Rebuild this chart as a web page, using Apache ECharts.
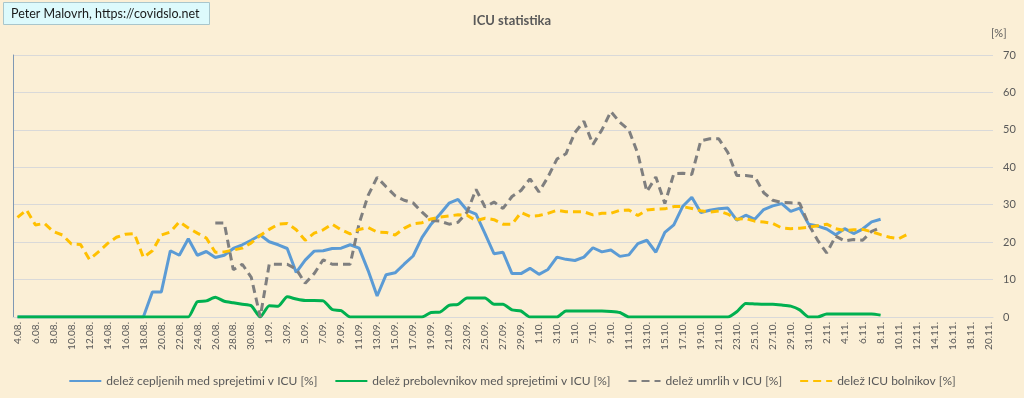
<!DOCTYPE html>
<html>
<head>
<meta charset="utf-8">
<title>ICU statistika</title>
<script src="https://cdn.jsdelivr.net/npm/echarts@6/dist/echarts.min.js"></script>
<style>
    html, body { margin: 0; padding: 0; background: #fbefd6; }
    #chart_icu { width: 1024px; height: 398px; }
</style>
</head>
<body>
<div id="chart_icu"></div>
<script>
// date labels 4.08. .. 20.11.
var months = [[8, 4, 31], [9, 1, 30], [10, 1, 31], [11, 1, 20]];
var dates = [];
months.forEach(function (m) {
    for (var d = m[1]; d <= m[2]; d++) {
        dates.push(d + '.' + (m[0] < 10 ? '0' + m[0] : m[0]) + '.');
    }
});

// delež cepljenih med sprejetimi v ICU [%]
var cepljeni = [
    0, 0, 0, 0, 0, 0, 0, 0, 0, 0, 0, 0, 0, 0, 0, 6.7, 6.7, 17.7, 16.5, 20.9,
    16.5, 17.5, 15.9, 16.5, 18.3, 19.3, 20.5, 21.9, 20.1, 19.3, 18.3, 11.9, 15.2, 17.6, 17.7, 18.3,
    18.4, 19.3, 18.4, 12.4, 5.6, 11.3, 11.8, 14.1, 16.3, 21.3, 24.8, 27.5, 30.4, 31.4, 28.5, 27.5,
    22.3, 16.9, 17.3, 11.6, 11.6, 13.0, 11.4, 12.7, 16.0, 15.4, 15.1, 16.0, 18.5, 17.4, 17.9, 16.2,
    16.6, 19.6, 20.5, 17.3, 22.6, 24.6, 29.6, 32.0, 27.9, 28.5, 28.9, 29.1, 25.9, 27.2, 26.1, 28.7,
    29.7, 30.3, 28.2, 29.1, 24.8, 24.3, 23.5, 22.0, 23.6, 22.3, 23.5, 25.4, 26.1
];

// delež prebolevnikov med sprejetimi v ICU [%]
var prebolevniki = [
    0, 0, 0, 0, 0, 0, 0, 0, 0, 0, 0, 0, 0, 0, 0, 0, 0, 0, 0, 0,
    4.1, 4.3, 5.3, 4.2, 3.8, 3.4, 3.0, 0, 3.0, 2.9, 5.4, 4.8, 4.4, 4.4, 4.3, 2.0,
    1.7, 0, 0, 0, 0, 0, 0, 0, 0, 0, 1.2, 1.3, 3.1, 3.4, 5.1, 5.1,
    5.1, 3.4, 3.4, 1.9, 1.6, 0, 0, 0, 0, 1.6, 1.6, 1.6, 1.6, 1.6, 1.5, 1.2,
    0, 0, 0, 0, 0, 0, 0, 0, 0, 0, 0, 0, 1.4, 3.6, 3.5, 3.4,
    3.4, 3.2, 2.9, 1.9, 0, 0, 0.8, 0.8, 0.8, 0.8, 0.8, 0.8, 0.5
];

// delež umrlih v ICU [%]
var umrli = [
    null, null, null, null, null, null, null, null, null, null, null, null, null, null, null, null,
    null, null, null, null, null, null,
    25.1, 25.1, 12.6, 14.1, 10.6, 0, 14.1, 14.1, 14.1, 12.8, 9.0, 11.6, 15.3, 14.1,
    14.1, 14.1, 25.0, 32.5, 37.3, 34.8, 32.4, 31.2, 30.5, 28.0, 25.8, 25.6, 24.8, 25.3, 28.0, 34.1,
    29.4, 30.7, 29.0, 32.2, 33.8, 36.9, 33.4, 37.4, 42.2, 43.6, 49.3, 52.3, 46.1, 50.0, 54.9, 52.0,
    50.0, 43.6, 33.5, 37.4, 30.3, 38.3, 38.4, 38.1, 47.1, 47.6, 47.6, 44.0, 37.8, 37.8, 37.5, 33.2,
    31.2, 30.6, 30.5, 30.4, 24.7, 20.5, 17.1, 21.6, 20.3, 20.7, 20.5, 22.9, 23.9
];

// delež ICU bolnikov [%]
var bolniki = [
    26.6, 28.6, 24.6, 25.0, 22.8, 21.9, 19.5, 19.4, 15.4, 17.4, 19.6, 21.3, 22.1, 22.3, 15.9, 17.7,
    21.9, 22.7, 25.4, 23.8, 22.4, 21.1, 17.3, 17.4, 17.9, 18.4, 19.8, 21.8, 23.4, 24.8, 25.0, 23.3,
    20.5, 22.4, 23.3, 24.8, 23.3, 22.2, 23.4, 23.9, 22.7, 22.6, 21.9, 23.7, 24.9, 25.2, 26.2, 26.7,
    27.0, 27.3, 27.2, 25.7, 26.4, 26.0, 24.8, 24.8, 27.9, 26.9, 27.1, 27.7, 28.5, 28.1, 28.1, 28.1,
    27.3, 27.7, 27.7, 28.5, 28.6, 27.1, 28.6, 28.8, 28.9, 29.5, 29.5, 29.0, 28.4, 28.0, 28.3, 27.5,
    26.1, 26.3, 25.6, 25.4, 25.0, 23.8, 23.6, 23.7, 24.0, 24.4, 24.8, 23.6, 23.1, 23.3, 23.4, 22.8,
    22.0, 21.3, 20.9, 22.1
];

var imena = [
    'delež cepljenih med sprejetimi v ICU [%]',
    'delež prebolevnikov med sprejetimi v ICU [%]',
    'delež umrlih v ICU [%]',
    'delež ICU bolnikov [%]'
];

var font = 'Lato, "Liberation Sans", sans-serif';
var myChart = echarts.init(document.getElementById('chart_icu'));

var option = {
    backgroundColor: '#fbefd6',
    animation: false,
    textStyle: { fontFamily: font },
    title: [
        {
            text: 'ICU statistika',
            left: 'center',
            top: 9,
            textStyle: { fontSize: 13, fontWeight: 'bold', color: '#595959', fontFamily: font }
        },
        {
            text: 'Peter Malovrh, https://covidslo.net',
            left: 3,
            top: 2,
            padding: [5, 10, 5, 8],
            backgroundColor: '#ddfafc',
            borderColor: '#a9c6cc',
            borderWidth: 1,
            textStyle: { fontSize: 12.5, fontWeight: 'normal', color: '#1a1a1a', fontFamily: font }
        }
    ],
    legend: {
        top: 370,
        left: 'center',
        itemWidth: 32,
        itemHeight: 10,
        itemGap: 17,
        itemStyle: { opacity: 0 },
        textStyle: { fontSize: 12, color: '#595959' },
        data: imena
    },
    grid: { left: 13, right: 31, top: 55, bottom: 81 },
    xAxis: {
        type: 'category',
        data: dates,
        boundaryGap: true,
        axisLine: { lineStyle: { color: '#d9d9d9' } },
        axisTick: { inside: true, length: 4, lineStyle: { color: '#d9d9d9' } },
        axisLabel: { rotate: 90, interval: 1, fontSize: 10, color: '#595959', margin: 5 }
    },
    yAxis: [
        {
            type: 'value',
            position: 'right',
            min: 0,
            max: 70,
            interval: 10,
            name: '[%]',
            nameGap: 16,
            nameTextStyle: { color: '#595959', fontSize: 11, align: 'left', padding: [0, 0, 0, -2] },
            axisLine: { show: false },
            axisTick: { show: false },
            axisLabel: { color: '#595959', fontSize: 11, margin: 10 },
            splitLine: { lineStyle: { color: '#d9d9d9' } }
        },
        {
            type: 'value',
            position: 'left',
            min: 0,
            max: 70,
            interval: 10,
            axisLine: { show: true, lineStyle: { color: '#7f98b4' } },
            axisTick: { show: false },
            axisLabel: { show: false },
            splitLine: { show: false }
        }
    ],
    series: [
        {
            name: imena[0],
            type: 'line',
            symbol: 'none',
            data: cepljeni,
            itemStyle: { color: '#5b9bd5' },
            lineStyle: { color: '#5b9bd5', width: 3 }
        },
        {
            name: imena[1],
            type: 'line',
            symbol: 'none',
            smooth: 0.2,
            data: prebolevniki,
            itemStyle: { color: '#00b050' },
            lineStyle: { color: '#00b050', width: 3 }
        },
        {
            name: imena[2],
            type: 'line',
            symbol: 'none',
            data: umrli,
            itemStyle: { color: '#7f7f7f' },
            lineStyle: { color: '#7f7f7f', width: 3, type: [8, 5] }
        },
        {
            name: imena[3],
            type: 'line',
            symbol: 'none',
            data: bolniki,
            itemStyle: { color: '#ffc000' },
            lineStyle: { color: '#ffc000', width: 3, type: [8, 5] }
        }
    ]
};

myChart.setOption(option);
window.addEventListener('resize', function () {
    myChart.resize();
});
</script>
</body>
</html>
